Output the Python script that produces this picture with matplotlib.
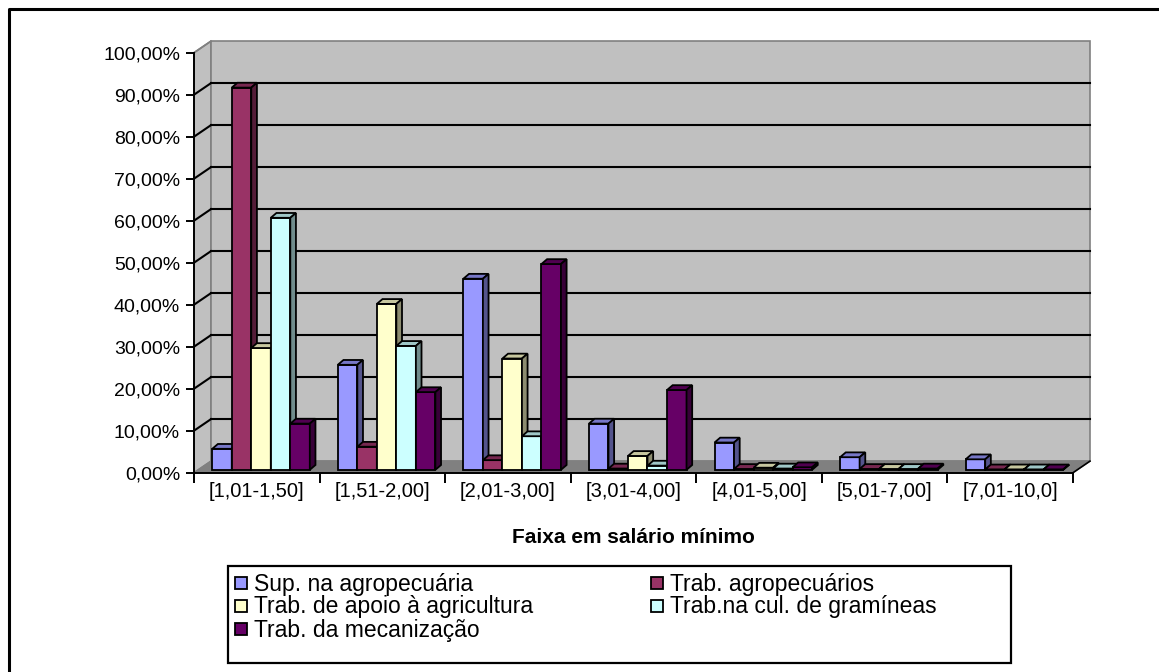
import matplotlib
matplotlib.use("Agg")
import matplotlib.pyplot as plt
from matplotlib.patches import Polygon, Rectangle
from matplotlib.lines import Line2D
import numpy as np

plt.rcParams['font.family'] = ['Liberation Sans', 'DejaVu Sans']

faixas = ['[1,01-1,50]', '[1,51-2,00]', '[2,01-3,00]', '[3,01-4,00]',
          '[4,01-5,00]', '[5,01-7,00]', '[7,01-10,0]']

sup_agro = [5.0, 25.0, 45.5, 11.0, 6.5, 3.0, 2.5]
trab_agro = [91.0, 5.5, 2.3, 0.3, 0.2, 0.2, 0.1]
trab_apoio = [29.0, 39.5, 26.5, 3.3, 0.5, 0.2, 0.1]
trab_gram = [60.0, 29.5, 8.0, 1.0, 0.3, 0.2, 0.1]
trab_mec = [11.0, 18.5, 49.0, 19.0, 0.6, 0.3, 0.1]

series = [sup_agro, trab_agro, trab_apoio, trab_gram, trab_mec]
nomes = ['Sup. na agropecuária', 'Trab. agropecuários',
         'Trab. de apoio à agricultura', 'Trab.na cul. de gramíneas',
         'Trab. da mecanização']
cores = ['#9999FF', '#993366', '#FFFFCC', '#CCFFFF', '#660066']

yticks = np.arange(0, 101, 10)

W, H = 1159, 672


def shade(c, f):
    r, g, b = matplotlib.colors.to_rgb(c)
    return (r * f, g * f, b * f)


def fx(px):
    return px / W


def fy(py):
    return 1 - py / H


fig = plt.figure(figsize=(W / 100, H / 100), dpi=100)
ax = fig.add_axes([fx(194), fy(472.7), 879 / W, 420 / H])
ax.set_facecolor('none')
n = len(faixas)
x0, x1 = -0.5, n - 0.5
ax.set_xlim(x0, x1)
ax.set_ylim(0, 100)

# depth of the 3d box (wall offset) in data units
wdx, wdy = 0.135, 2.75

# side wall, back wall and floor
ax.add_patch(Polygon([(x0, 0), (x0 + wdx, wdy), (x0 + wdx, 100 + wdy), (x0, 100)],
                     closed=True, fc='#C0C0C0', ec='#808080', lw=1.2, clip_on=False, zorder=0))
ax.add_patch(Polygon([(x0 + wdx, wdy), (x1 + wdx, wdy), (x1 + wdx, 100 + wdy), (x0 + wdx, 100 + wdy)],
                     closed=True, fc='#C0C0C0', ec='#808080', lw=1.2, clip_on=False, zorder=0))
ax.add_patch(Polygon([(x0, 0), (x1, 0), (x1 + wdx, wdy), (x0 + wdx, wdy)],
                     closed=True, fc='#808080', ec='#808080', lw=1.0, clip_on=False, zorder=1))
ax.plot([x1, x1 + wdx], [0, wdy], color='black', lw=1.2, clip_on=False, zorder=1)

for v in yticks[1:-1]:
    ax.plot([x0 + wdx, x1 + wdx], [v + wdy, v + wdy], color='black', lw=1.5, zorder=1, clip_on=False)
    ax.plot([x0, x0 + wdx], [v, v + wdy], color='black', lw=1.5, zorder=1, clip_on=False)
ax.plot([x0, x0 + wdx], [100, 100 + wdy], color='#808080', lw=1.2, zorder=1, clip_on=False)

# 3d columns
gap = 0.223
w = (1 - gap) / len(series)
fdx, fdy = 0.25 * wdx, 0.25 * wdy
ddx, ddy = 0.045, 1.15
z = 2
for i in range(n):
    for j, vals in enumerate(series):
        xl = i - 0.5 + gap / 2 + j * w + fdx
        v = vals[i]
        ax.bar(xl, v, width=w, bottom=fdy, align='edge', color=cores[j],
               edgecolor='black', lw=1.3, zorder=z, clip_on=False)
        top = fdy + v
        ax.add_patch(Polygon([(xl, top), (xl + w, top), (xl + w + ddx, top + ddy), (xl + ddx, top + ddy)],
                             closed=True, fc=shade(cores[j], 0.78), ec='black', lw=1.3,
                             zorder=z, clip_on=False))
        ax.add_patch(Polygon([(xl + w, fdy), (xl + w, top), (xl + w + ddx, top + ddy), (xl + w + ddx, fdy + ddy)],
                             closed=True, fc=shade(cores[j], 0.55), ec='black', lw=1.3,
                             zorder=z, clip_on=False))
        z += 1

for s in ['top', 'right']:
    ax.spines[s].set_visible(False)
for s in ['left', 'bottom']:
    ax.spines[s].set_color('black')
    ax.spines[s].set_linewidth(1.4)
    ax.spines[s].set_zorder(100)

ax.set_yticks(yticks)
ax.set_yticklabels(['%d,00%%' % v for v in yticks])
ax.tick_params(axis='y', direction='out', length=6, width=1.4, labelsize=14, pad=4)

ax.set_xticks(np.arange(x0, x1 + 0.01, 1))
ax.set_xticklabels([])
ax.set_xticks(np.arange(n), minor=True)
ax.set_xticklabels(faixas, minor=True)
ax.tick_params(axis='x', which='major', direction='out', length=7, width=1.4)
ax.tick_params(axis='x', which='minor', length=0, labelsize=14.5, pad=7)

ax.set_xlabel('Faixa em salário mínimo', fontsize=15, fontweight='bold', labelpad=19)

# legend box, two columns filled row by row
fig.add_artist(Rectangle((fx(228), fy(663)), 783 / W, 97 / H, transform=fig.transFigure,
                         fc='white', ec='black', lw=1.6))
col_x = [241, 657]
row_y = [583, 606, 629]
for k, (nome, cor) in enumerate(zip(nomes, cores)):
    cx = col_x[k % 2]
    cy = row_y[k // 2]
    fig.add_artist(Rectangle((fx(cx - 6), fy(cy + 6)), 12 / W, 12 / H,
                             transform=fig.transFigure, fc=cor, ec='black', lw=1.3))
    fig.text(fx(cx + 13), fy(cy + 1), nome, fontsize=16.5, va='center', ha='left')

# outer frame (top and left edges)
fig.add_artist(Line2D([fx(8.5), fx(8.5), 1], [0, fy(8.5), fy(8.5)],
                      transform=fig.transFigure, color='black', lw=2.2))

fig.savefig('out.png', dpi=100, facecolor='white')
